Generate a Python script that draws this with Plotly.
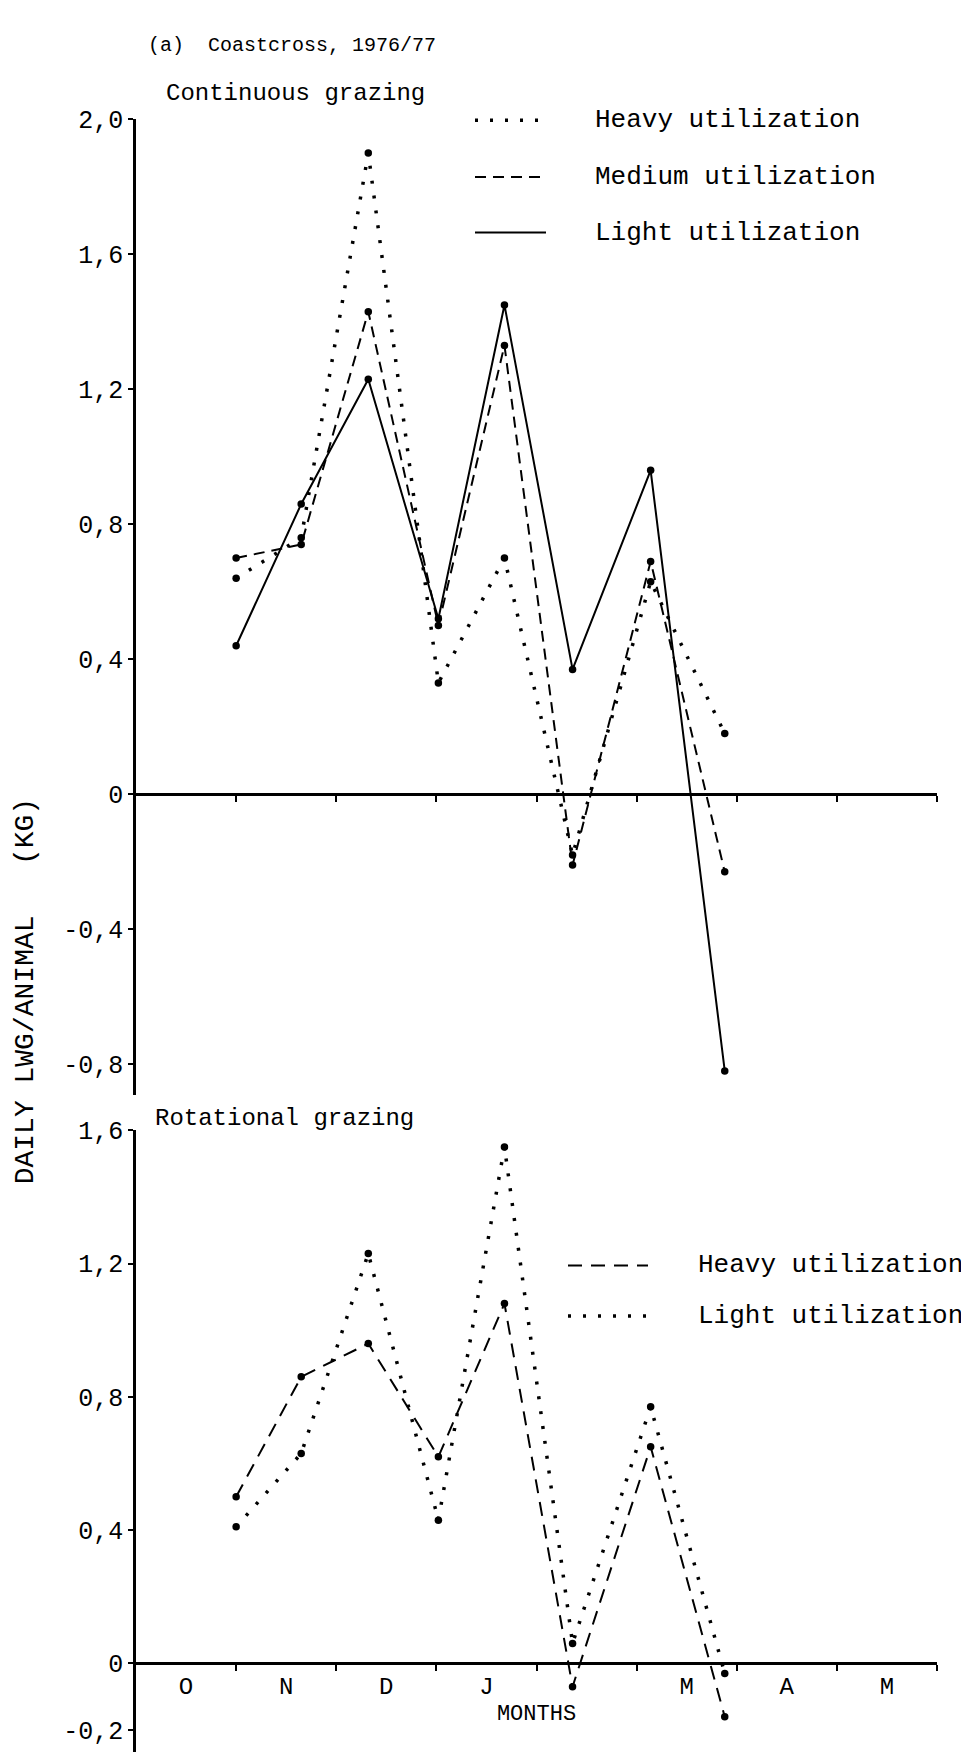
import plotly.graph_objects as go

# sampling dates, in months counted from 1 October
months_x = [1.0, 1.65, 2.32, 3.02, 3.68, 4.36, 5.14, 5.88]

# (a) continuous grazing, daily LWG per animal (kg)
heavy_cont = [0.64, 0.76, 1.90, 0.33, 0.70, -0.18, 0.63, 0.18]
medium_cont = [0.70, 0.74, 1.43, 0.50, 1.33, -0.21, 0.69, -0.23]
light_cont = [0.44, 0.86, 1.23, 0.52, 1.45, 0.37, 0.96, -0.82]

# rotational grazing
heavy_rot = [0.50, 0.86, 0.96, 0.62, 1.08, -0.07, 0.65, -0.16]
light_rot = [0.41, 0.63, 1.23, 0.43, 1.55, 0.06, 0.77, -0.03]

month_ticks = [0.5, 1.5, 2.5, 3.5, 5.5, 6.5, 7.5]
month_labels = ["O", "N", "D", "J", "M", "A", "M"]
top_ticks = [-0.8, -0.4, 0, 0.4, 0.8, 1.2, 1.6, 2.0]
top_labels = ["-0,8", "-0,4", "0", "0,4", "0,8", "1,2", "1,6", "2,0"]
bot_ticks = [-0.2, 0, 0.4, 0.8, 1.2, 1.6]
bot_labels = ["-0,2", "0", "0,4", "0,8", "1,2", "1,6"]

W, H = 969, 1752
FONT = "Liberation Mono, Courier New, monospace"
DOT = "3px,12px"
DASH = "11px,7px"
LONGDASH = "14px,9px"

top_range = [-0.89, 2.0]
bot_range = [-0.29, 1.6]
top_dom = [1 - 1082 / H, 1 - 100 / H]
bot_dom = [0, 1 - 1118 / H]
x_dom = [128 / W, 929 / W]


def zero_pos(rng, dom):
    return dom[0] + (0 - rng[0]) / (rng[1] - rng[0]) * (dom[1] - dom[0])


fig = go.Figure()


def add_series(y, dash, width, xa, ya):
    fig.add_trace(go.Scatter(
        x=months_x, y=y, mode="lines+markers", xaxis=xa, yaxis=ya,
        line=dict(color="black", width=width, dash=dash),
        marker=dict(color="black", size=7.5), showlegend=False))


add_series(heavy_cont, DOT, 3.5, "x", "y")
add_series(medium_cont, DASH, 2, "x", "y")
add_series(light_cont, "solid", 2, "x", "y")
add_series(heavy_rot, LONGDASH, 2, "x2", "y2")
add_series(light_rot, DOT, 3.5, "x2", "y2")


def legend_row(x0, x1, xt, y, dash, width, text):
    fig.add_shape(type="line", xref="paper", yref="paper",
                  x0=x0 / W, x1=x1 / W, y0=1 - y / H, y1=1 - y / H,
                  line=dict(color="black", width=width, dash=dash))
    fig.add_annotation(xref="paper", yref="paper", x=xt / W, y=1 - y / H,
                       text=text, showarrow=False, xanchor="left",
                       yanchor="middle",
                       font=dict(family=FONT, size=26, color="black"))


legend_row(467, 538, 585, 101, DOT, 3.5, "Heavy utilization")
legend_row(467, 538, 585, 158, DASH, 2, "Medium utilization")
legend_row(467, 538, 585, 214, "solid", 2, "Light utilization")
legend_row(560, 640, 688, 1254, LONGDASH, 2, "Heavy utilization")
legend_row(560, 640, 688, 1305, DOT, 3.5, "Light utilization")


def text(x, y, s, size, angle=0, anchor="left"):
    fig.add_annotation(xref="paper", yref="paper", x=x / W, y=1 - y / H,
                       text=s, showarrow=False, xanchor=anchor,
                       yanchor="middle", textangle=angle,
                       font=dict(family=FONT, size=size, color="black"))


text(138, 26, "(a)\u00a0\u00a0Coastcross, 1976/77", 20)
text(156, 74, "Continuous grazing", 24)
text(145, 1106, "Rotational grazing", 24)
text(17, 978, "DAILY LWG/ANIMAL\u00a0\u00a0\u00a0(KG)", 28, -90, "center")

tick_font = dict(family=FONT, size=25, color="black")
yax = dict(showline=True, linecolor="black", linewidth=2.5, showgrid=False,
           zeroline=False, ticks="outside", ticklen=5, tickwidth=2,
           tickcolor="black", tickfont=tick_font)

fig.update_layout(
    width=W, height=H, margin=dict(l=0, r=0, t=0, b=0),
    paper_bgcolor="white", plot_bgcolor="white", showlegend=False,
    xaxis=dict(domain=x_dom, range=[0, 8], anchor="free",
               position=zero_pos(top_range, top_dom), showline=True,
               linecolor="black", linewidth=2.5, showgrid=False,
               zeroline=False, tickvals=list(range(1, 9)), ticks="outside",
               ticklen=6, tickwidth=2, tickcolor="black",
               showticklabels=False),
    yaxis=dict(domain=top_dom, range=top_range, anchor="x",
               tickvals=top_ticks, ticktext=top_labels, **yax),
    xaxis2=dict(domain=x_dom, range=[0, 8], anchor="free",
                position=zero_pos(bot_range, bot_dom), showline=True,
                linecolor="black", linewidth=2.5, showgrid=False,
                zeroline=False, tickvals=month_ticks, ticktext=month_labels,
                ticks="", tickfont=dict(family=FONT, size=24, color="black"),
                minor=dict(tickvals=list(range(1, 9)), ticks="outside",
                           ticklen=6, tickwidth=2, tickcolor="black"),
                title=dict(text="MONTHS", standoff=4,
                           font=dict(family=FONT, size=22, color="black"))),
    yaxis2=dict(domain=bot_dom, range=bot_range, anchor="x2",
                tickvals=bot_ticks, ticktext=bot_labels, **yax),
)

fig.write_html("out.html")
